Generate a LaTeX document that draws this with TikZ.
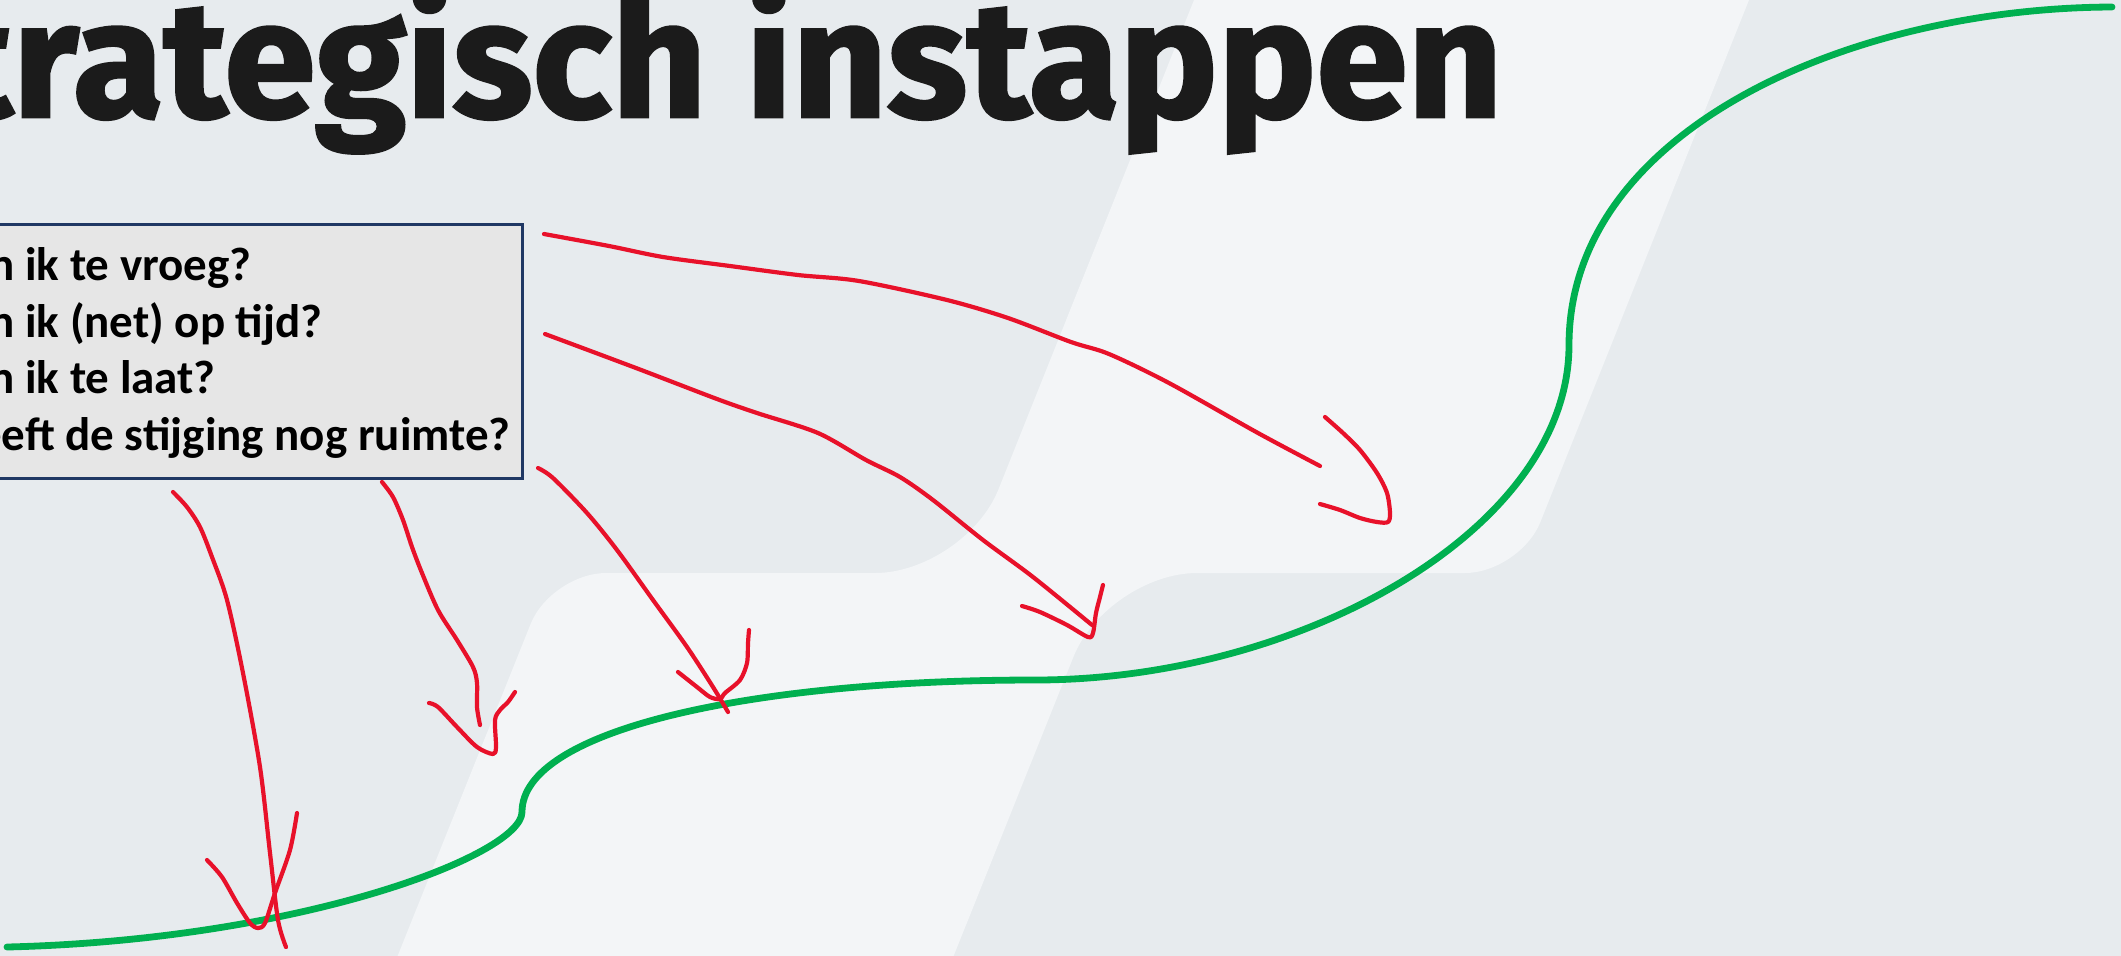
\documentclass[tikz,border=0pt]{standalone}
\usepackage{fontspec}
\setmainfont{Carlito}
\newfontfamily\titlefont{Fira Sans}[BoldFeatures={FakeBold=1.6}]
\definecolor{bgdark}{HTML}{E7EBEE}
\definecolor{bglight}{HTML}{F3F5F7}
\definecolor{boxfill}{HTML}{E6E6E6}
\definecolor{boxline}{HTML}{203864}
\definecolor{titleink}{HTML}{1B1B1B}
\definecolor{curvegreen}{HTML}{00B050}
\definecolor{inkred}{HTML}{E8112A}
\tikzset{
  redink/.style={draw=inkred, line width=2.1pt, line cap=round, line join=round},
  greencurve/.style={draw=curvegreen, line width=3.4pt, line cap=round},
  qtext/.style={anchor=base west, inner sep=0pt, text=black,
    font=\bfseries\fontsize{23.5}{28}\selectfont},
  qbox/.style={draw=boxline, line width=1.5pt, fill=boxfill, inner sep=0pt,
    minimum width=280pt, minimum height=127pt, anchor=north east},
  titletext/.style={anchor=base east, inner sep=0pt, text=titleink,
    font=\titlefont\bfseries\fontsize{82.5}{90}\selectfont}
}
\begin{document}
\begin{tikzpicture}[x=0.5pt,y=-0.5pt]
\useasboundingbox (0,0) rectangle (2121,955);
\clip (0,0) rectangle (2121,955);
% background
\fill[bgdark] (-10,-10) rectangle (2131,965);
\fill[bglight] (1202,-20) -- (1757,-20) -- (1540.4,522)
  .. controls (1529.2,550.1) and (1495.3,573) .. (1465,573)
  -- (1197,573) .. controls (1147.5,573) and (1092,610.6) .. (1073.6,656.5)
  -- (946,975) -- (390,975) -- (530.6,624)
  .. controls (541.8,595.9) and (575.7,573) .. (606,573)
  -- (875,573) .. controls (924.5,573) and (980,535.4) .. (998.4,489.5)
  -- cycle;
% title
\node[titletext] (title) at (1503,117) {Strategisch instappen};
% question box
\node[qbox] (box) at (524,223) {};
\node[qtext] (q1) at (-61,280) {Ben ik te vroeg?};
\node[qtext] (q2) at (-61,337) {Ben ik (net) op tijd?};
\node[qtext] (q3) at (-61,393) {Ben ik te laat?};
\node[qtext] (q4) at (-52,450) {Heeft de stijging nog ruimte?};
% green curve
\draw[greencurve] (7,947) .. controls (300,940) and (522,855) .. (522,812)
  .. controls (522,730) and (750,680) .. (1035,680)
  .. controls (1300,680) and (1569,530) .. (1569,345)
  .. controls (1569,130) and (1850,8) .. (2112,7);
% red hand-drawn arrows
\draw[redink] plot[smooth, tension=0.5] coordinates {(173,492) (187,507) (200,527) (212,557) (227,600) (243,673) (260,767) (270,853) (278,920) (286,947)};
\draw[redink] plot[smooth, tension=0.5] coordinates {(207,860) (222,877) (237,903) (250,923) (258,928) (265,923) (275,893) (290,850) (297,813)};
\draw[redink] plot[smooth, tension=0.5] coordinates {(382,482) (393,497) (403,520) (412,547) (422,573) (438,610) (457,640) (473,667) (477,683) (477,707) (480,725)};
\draw[redink] plot[smooth, tension=0.5] coordinates {(429,703) (438,707) (457,727) (477,747) (493,754) (496,747) (495,720) (500,710) (508,702) (515,692)};
\draw[redink] plot[smooth, tension=0.5] coordinates {(538,468) (553,478) (587,513) (617,550) (653,600) (687,647) (713,687) (728,712)};
\draw[redink] plot[smooth, tension=0.5] coordinates {(678,672) (697,687) (710,697) (720,699) (725,693) (740,680) (747,663) (748,643) (749,630)};
\draw[redink] plot[smooth, tension=0.5] coordinates {(545,334) (636,368) (717,399) (757,413) (818,433) (866,460) (900,477) (933,500) (983,540) (1033,577) (1092,625)};
\draw[redink] plot[smooth, tension=0.5] coordinates {(1022,606) (1040,612) (1067,625) (1088,637) (1093,633) (1096,613) (1100,597) (1103,585)};
\draw[redink] plot[smooth, tension=0.5] coordinates {(544,234) (609,246) (663,257) (730,266) (798,275) (859,281) (947,300) (1008,318) (1071,342) (1109,354) (1169,383) (1258,433) (1320,466)};
\draw[redink] plot[smooth, tension=0.5] coordinates {(1325,417) (1343,433) (1360,450) (1377,473) (1387,493) (1390,513) (1388,522) (1377,522) (1360,518) (1340,510) (1320,504)};
\end{tikzpicture}
\end{document}
